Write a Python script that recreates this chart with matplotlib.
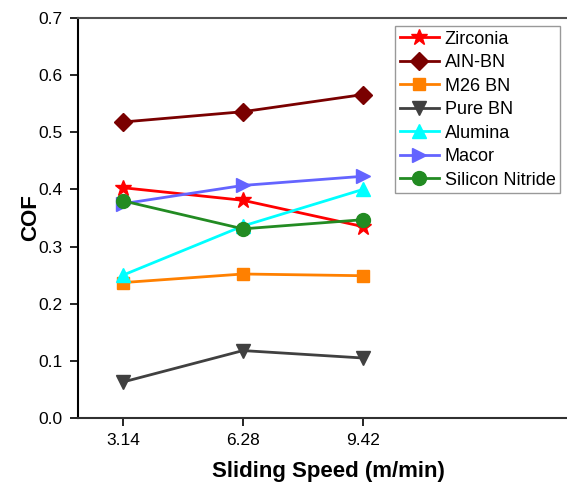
import matplotlib
matplotlib.use('Agg')
import matplotlib.pyplot as plt

plt.rcParams['font.family'] = ['Liberation Sans', 'DejaVu Sans']

# Datos
velocidad = [3.14, 6.28, 9.42]
etiquetas_x = ['3.14', '6.28', '9.42']
zirconia = [0.403, 0.381, 0.335]
aln_bn = [0.518, 0.536, 0.566]
m26_bn = [0.237, 0.252, 0.249]
pure_bn = [0.063, 0.118, 0.105]
alumina = [0.250, 0.336, 0.400]
macor = [0.375, 0.407, 0.423]
silicon_nitride = [0.380, 0.331, 0.347]

series = [
    ('Zirconia', zirconia, 'red', '*', 12),
    ('AIN-BN', aln_bn, '#7a0000', 'D', 9),
    ('M26 BN', m26_bn, '#ff8000', 's', 9),
    ('Pure BN', pure_bn, '#404040', 'v', 10),
    ('Alumina', alumina, 'cyan', '^', 10),
    ('Macor', macor, '#6464ff', '>', 10),
    ('Silicon Nitride', silicon_nitride, '#228b22', 'o', 10),
]

fig = plt.figure(figsize=(5.67, 4.86), dpi=100)
ax = fig.add_axes([78 / 567, 68 / 486, 500 / 567, 400 / 486])

for nombre, valores, color, marcador, tam in series:
    ax.plot(velocidad, valores, color=color, marker=marcador, markersize=tam,
            linewidth=2, label=nombre)

ax.set_xlim(1.9625, 15.05)
ax.set_ylim(0, 0.7)
ax.set_xticks(velocidad)
ax.set_xticklabels(etiquetas_x)
ax.set_yticks([0.0, 0.1, 0.2, 0.3, 0.4, 0.5, 0.6, 0.7])
ax.set_yticklabels(['0.0', '0.1', '0.2', '0.3', '0.4', '0.5', '0.6', '0.7'])
ax.tick_params(labelsize=12.5, direction='out', length=6, width=1.2, pad=5)

ax.spines['top'].set_color('#505050')
ax.spines['top'].set_linewidth(1.5)
ax.spines['left'].set_linewidth(1.5)
ax.spines['bottom'].set_linewidth(1.5)
ax.spines['bottom'].set_color('#303030')
ax.spines['right'].set_visible(False)

ax.set_xlabel('Sliding Speed (m/min)', fontsize=16, fontweight='bold', labelpad=9)
ax.set_ylabel('COF', fontsize=16, fontweight='bold', labelpad=-2)

leg = ax.legend(loc='upper left', bbox_to_anchor=(317 / 500, 0.98), fontsize=13,
                frameon=True, fancybox=False, edgecolor='#808080',
                borderpad=0.25, labelspacing=0.36, handlelength=2.2,
                handletextpad=0.3, borderaxespad=0)
leg.get_frame().set_linewidth(1.0)

fig.savefig('out.png', dpi=100)
